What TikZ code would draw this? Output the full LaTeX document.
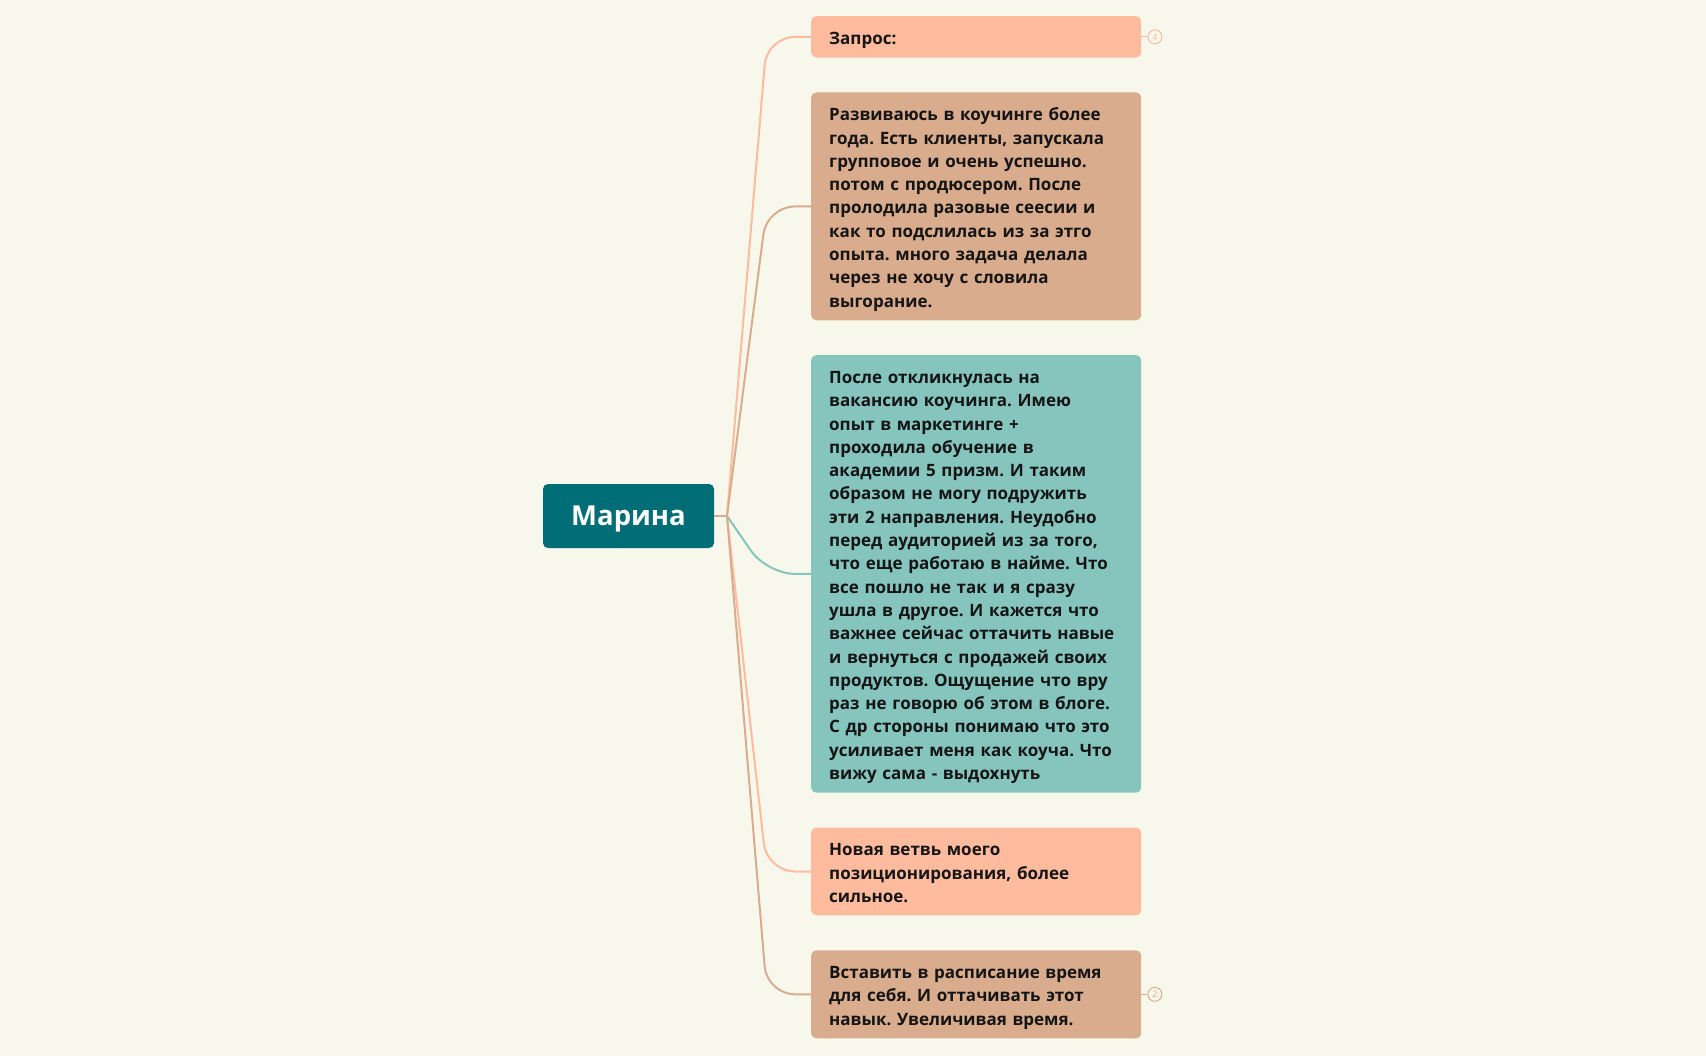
\documentclass[tikz,border=0pt]{standalone}
\usepackage{fontspec}
\setmainfont{Open Sans}
\usepackage{tikz}
\usetikzlibrary{positioning}
\frenchspacing
\definecolor{paper}{HTML}{F8F7EC}
\definecolor{rootteal}{HTML}{006D77}
\definecolor{salmon}{HTML}{FFBB9E}
\definecolor{tan}{HTML}{D9AC8E}
\definecolor{seafoam}{HTML}{85C5BE}
\definecolor{ink}{HTML}{151515}
\newcommand{\notefont}{\fontsize{17}{23.3}\selectfont\bfseries}
\newcommand{\topstrut}{\rule{0pt}{19.3pt}}
\newcommand{\botstrut}{\rule[-4pt]{0pt}{4pt}}
\tikzstyle{note box}=[rounded corners=5pt,text width=294pt,align=left,inner xsep=18pt,inner ysep=9pt,
  font=\notefont,text=ink,execute at begin node=\topstrut,execute at end node=\botstrut]
\tikzstyle{root box}=[rounded corners=5pt,fill=rootteal,text=white,minimum width=171pt,minimum height=64pt,
  text height=19.5pt,text depth=0pt,font=\fontsize{27.5}{33}\selectfont\bfseries]
\tikzstyle{branch edge}=[line width=2pt,rounded corners=28pt]
\tikzstyle{count badge}=[circle,draw,line width=1pt,minimum size=14pt,inner sep=0pt,font=\fontsize{9}{9}\selectfont]
\newcommand{\notenode}[4][]{
  \node [note box, fill=#2, #1] (#3) {#4}
}

\begin{document}
\begin{tikzpicture}[x=1pt,y=1pt]
        \fill[paper] (0,0) rectangle (1706,-1056);
        \useasboundingbox (0,0) rectangle (1706,-1056);

        \node[root box] (root) at (628.5,-516) {Марина};
        \coordinate (fork) at (727,-516);
        \coordinate (bend) at (767,-516);

        \notenode[anchor=north west, at={(811,-16)}] {salmon}{n1}{Запрос:};
        \notenode[below=34.5pt of n1] {tan}{n2}{Развиваюсь в коучинге более\\
                года. Есть клиенты, запускала\\
                групповое и очень успешно.\\
                потом с продюсером. После\\
                пролодила разовые сеесии и\\
                как то подслилась из за этго\\
                опыта. много задача делала\\
                через не хочу с словила\\
                выгорание.};
        \notenode[below=34.5pt of n2] {seafoam}{n3}{После откликнулась на\\
                вакансию коучинга. Имею\\
                опыт в маркетинге +\\
                проходила обучение в\\
                академии 5 призм. И таким\\
                образом не могу подружить\\
                эти 2 направления. Неудобно\\
                перед аудиторией из за того,\\
                что еще работаю в найме. Что\\
                все пошло не так и я сразу\\
                ушла в другое. И кажется что\\
                важнее сейчас оттачить навые\\
                и вернуться с продажей своих\\
                продуктов. Ощущение что вру\\
                раз не говорю об этом в блоге.\\
                С др стороны понимаю что это\\
                усиливает меня как коуча. Что\\
                вижу сама - выдохнуть};
        \notenode[below=34.5pt of n3] {salmon}{n4}{Новая ветвь моего\\
                позиционирования, более\\
                сильное.};
        \notenode[below=34.5pt of n4] {tan}{n5}{Вставить в расписание время\\
                для себя. И оттачивать этот\\
                навык. Увеличивая время.};

        \node[count badge, draw=salmon, text=salmon, right=6pt of n1] (c1) {4};
        \node[count badge, draw=tan, text=tan, right=6pt of n5] (c5) {2};

            \draw[line width=2pt, tan] (root.east) -- (fork);
            \draw[branch edge, salmon] (fork) -- (n1.west -| bend) -- (n1.west);
            \draw[branch edge, tan] (fork) -- (n2.west -| bend) -- (n2.west);
            \draw[branch edge, seafoam] (fork) -- (n3.west -| bend) -- (n3.west);
            \draw[branch edge, salmon] (fork) -- (n4.west -| bend) -- (n4.west);
            \draw[branch edge, tan] (fork) -- (n5.west -| bend) -- (n5.west);

            \draw[line width=1pt, salmon] (n1) -- (c1);
            \draw[line width=1pt, tan] (n5) -- (c5);
\end{tikzpicture}
\end{document}
